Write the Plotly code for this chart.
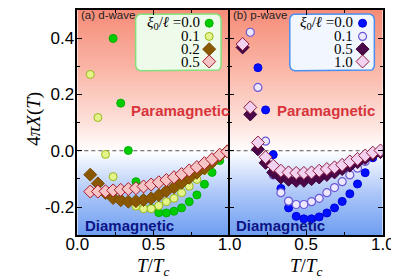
import plotly.graph_objects as go

# ---------------- data ----------------
T = [0.085, 0.135, 0.185, 0.235, 0.285, 0.335, 0.385, 0.435, 0.485, 0.535,
     0.585, 0.635, 0.685, 0.735, 0.785, 0.835, 0.885, 0.935, 0.985]

# (a) d-wave
d_00 = [None, None, None, 0.399, 0.169, 0.001, -0.110, -0.172, -0.205, -0.220,
        -0.221, -0.215, -0.203, -0.181, -0.157, -0.119, -0.077, -0.035, -0.004]
d_01 = [0.271, 0.118, -0.013, -0.092, -0.140, -0.178, -0.197, -0.206, -0.206, -0.195,
        -0.181, -0.169, -0.149, -0.126, -0.102, -0.070, -0.044, -0.022, -0.004]
d_02 = [-0.085, -0.116, -0.150, -0.168, -0.176, -0.181, -0.179, -0.175, -0.169, -0.158,
        -0.143, -0.130, -0.114, -0.096, -0.078, -0.062, -0.041, -0.017, -0.002]
d_05 = [-0.145, -0.145, -0.144, -0.141, -0.139, -0.136, -0.133, -0.127, -0.120, -0.112,
        -0.104, -0.094, -0.083, -0.070, -0.058, -0.044, -0.030, -0.014, -0.003]

# (b) p-wave
p_00 = [None, None, 0.295, 0.145, -0.014, -0.134, -0.203, -0.233, -0.242, -0.242,
        -0.235, -0.221, -0.203, -0.180, -0.153, -0.118, -0.078, -0.025, -0.002]
p_01 = [None, 0.421, 0.225, 0.034, -0.086, -0.149, -0.179, -0.191, -0.191, -0.181,
        -0.169, -0.149, -0.131, -0.110, -0.086, -0.062, -0.038, -0.016, -0.002]
p_05 = [0.367, 0.129, 0.005, -0.043, -0.077, -0.095, -0.103, -0.107, -0.107, -0.101,
        -0.095, -0.086, -0.077, -0.065, -0.053, -0.041, -0.026, -0.014, -0.005]
p_10 = [0.379, 0.154, 0.029, -0.023, -0.053, -0.071, -0.077, -0.079, -0.079, -0.077,
        -0.071, -0.065, -0.059, -0.050, -0.038, -0.029, -0.017, -0.007, 0.001]

legend_vals_a = ["0.0", "0.1", "0.2", "0.5"]
legend_vals_b = ["0.0", "0.1", "0.5", "1.0"]

x_ticks_a = [0, 0.5, 1.0]
x_labels_a = ["0.0", "0.5", "1.0"]
x_ticks_b = [0.5, 1.0]
x_labels_b = ["0.5", "1.0"]
y_ticks = [-0.2, 0.0, 0.2, 0.4]
y_labels = ["-0.2", "0.0", "0.2", "0.4"]

# background gradient stops (y, color)
grad_y = [-0.32, -0.15, 0.0, 0.1, 0.3, 0.52]
grad_c = ["rgb(100,152,240)", "rgb(172,198,248)", "rgb(255,255,255)",
          "rgb(253,226,220)", "rgb(250,180,164)", "rgb(245,136,116)"]

# ---------------- styles ----------------
S_a = [
    dict(symbol="circle", size=8, color="#00cc00", line=dict(color="#00b000", width=1)),
    dict(symbol="circle", size=8, color="#e4f48a", line=dict(color="#98b818", width=1)),
    dict(symbol="diamond", size=10, color="#8a5800", line=dict(color="#7a4c00", width=1)),
    dict(symbol="diamond", size=10, color="#f6c4c4", line=dict(color="#a81828", width=1)),
]
S_b = [
    dict(symbol="circle", size=8, color="#0010ff", line=dict(color="#0000e0", width=1)),
    dict(symbol="circle", size=8, color="#ece8ff", line=dict(color="#6a58d8", width=1.2)),
    dict(symbol="diamond", size=10, color="#4a0848", line=dict(color="#3c003a", width=1)),
    dict(symbol="diamond", size=10, color="#f2d2f0", line=dict(color="#8c1c3c", width=1)),
]

fig = go.Figure()

# gradient background (heatmap, smoothed)
n = len(grad_y)
cs = [[i / (n - 1), c] for i, c in enumerate(grad_c)]
zz = [[i, i] for i in range(n)]
for xa, ya in (("x", "y"), ("x2", "y2")):
    fig.add_trace(go.Heatmap(x=[-0.01, 1.01], y=grad_y, z=zz, colorscale=cs,
                             zsmooth="best", showscale=False, hoverinfo="skip",
                             xaxis=xa, yaxis=ya))

# dashed zero line
for xa, ya in (("x", "y"), ("x2", "y2")):
    fig.add_trace(go.Scatter(x=[0, 1], y=[0, 0], mode="lines",
                             line=dict(color="#555555", width=1, dash="4px,3px"),
                             hoverinfo="skip", showlegend=False, xaxis=xa, yaxis=ya))

# legend boxes (rounded rect as filled path)
def rounded_box(x0, x1, y0, y1, rx, ry, k=6):
    import math
    xs, ys = [], []
    corners = [(x1 - rx, y1 - ry, 0), (x0 + rx, y1 - ry, 90),
               (x0 + rx, y0 + ry, 180), (x1 - rx, y0 + ry, 270)]
    for cx, cy, a0 in corners:
        for j in range(k + 1):
            a = math.radians(a0 + 90 * j / k)
            xs.append(cx + rx * math.cos(a))
            ys.append(cy + ry * math.sin(a))
    xs.append(xs[0]); ys.append(ys[0])
    return xs, ys

bx, by = rounded_box(0.383, 0.944, 0.284, 0.486, 0.035, 0.02)
fig.add_trace(go.Scatter(x=bx, y=by, mode="lines", fill="toself",
                         fillcolor="#effbea", line=dict(color="#84e07c", width=1.5),
                         hoverinfo="skip", showlegend=False, xaxis="x", yaxis="y"))
bx, by = rounded_box(0.393, 0.945, 0.284, 0.486, 0.035, 0.02)
fig.add_trace(go.Scatter(x=bx, y=by, mode="lines", fill="toself",
                         fillcolor="#f2f6ff", line=dict(color="#4a90f0", width=1.5),
                         hoverinfo="skip", showlegend=False, xaxis="x2", yaxis="y2"))

# data
for ys, st in zip([d_00, d_01, d_02, d_05], S_a):
    fig.add_trace(go.Scatter(x=T, y=ys, mode="markers", marker=st,
                             showlegend=False, xaxis="x", yaxis="y"))
for ys, st in zip([p_00, p_01, p_05, p_10], S_b):
    fig.add_trace(go.Scatter(x=T, y=ys, mode="markers", marker=st,
                             showlegend=False, xaxis="x2", yaxis="y2"))

# legend markers & texts
leg_rows = [0.453, 0.406, 0.361, 0.317]
annos = []
serif = "Liberation Serif, DejaVu Serif, serif"
for (vals, styles, xa, ya, mx, tx) in (
        (legend_vals_a, S_a, "x", "y", 0.866, 0.812),
        (legend_vals_b, S_b, "x2", "y2", 0.868, 0.810)):
    for i, (v, st, yy) in enumerate(zip(vals, styles, leg_rows)):
        fig.add_trace(go.Scatter(x=[mx], y=[yy], mode="markers", marker=st,
                                 showlegend=False, hoverinfo="skip", xaxis=xa, yaxis=ya))
        txt = ("<i>ξ</i><sub>0</sub>/<i>ℓ</i> =" + v) if i == 0 else v
        annos.append(dict(x=tx, y=yy, xref=xa, yref=ya, text=txt, showarrow=False,
                          xanchor="right", yanchor="middle", borderpad=0,
                          font=dict(family=serif, size=15, color="black")))

sans = "Liberation Sans, Arial, sans-serif"
for xa, ya, lab in (("x", "y", "(a) d-wave"), ("x2", "y2", "(b) p-wave")):
    annos.append(dict(x=0.012, y=0.482, xref=xa, yref=ya, text=lab, showarrow=False,
                      xanchor="left", yanchor="middle",
                      font=dict(family=sans, size=11.5, color="#222222")))
annos.append(dict(x=0.675, y=0.144, xref="x", yref="y", text="<b>Paramagnetic</b>",
                  showarrow=False, xanchor="center", yanchor="middle",
                  font=dict(family=sans, size=15, color="#d8343c")))
annos.append(dict(x=0.63, y=0.144, xref="x2", yref="y2", text="<b>Paramagnetic</b>",
                  showarrow=False, xanchor="center", yanchor="middle",
                  font=dict(family=sans, size=15, color="#d8343c")))
annos.append(dict(x=0.035, y=-0.266, xref="x", yref="y", text="<b>Diamagnetic</b>",
                  showarrow=False, xanchor="left", yanchor="middle",
                  font=dict(family=sans, size=15, color="#0c1486")))
annos.append(dict(x=0.03, y=-0.266, xref="x2", yref="y2", text="<b>Diamagnetic</b>",
                  showarrow=False, xanchor="left", yanchor="middle",
                  font=dict(family=sans, size=15, color="#0c1486")))

# axis titles
annos.append(dict(x=142 / 399, y=(279 - 259) / 279, xref="paper", yref="paper",
                  text="<i>T</i>/<i>T</i><sub><i>c</i></sub>", showarrow=False,
                  xanchor="center", yanchor="middle",
                  font=dict(family=serif, size=19, color="black")))
annos.append(dict(x=304.5 / 399, y=(279 - 259) / 279, xref="paper", yref="paper",
                  text="<i>T</i>/<i>T</i><sub><i>c</i></sub>", showarrow=False,
                  xanchor="center", yanchor="middle",
                  font=dict(family=serif, size=19, color="black")))
annos.append(dict(x=15 / 399, y=(279 - 110) / 279, xref="paper", yref="paper",
                  text="4<i>πX</i>(<i>T</i>)", showarrow=False, textangle=-90,
                  xanchor="center", yanchor="middle",
                  font=dict(family=serif, size=19, color="black")))

W, H = 399, 279
xd_a = [61 / W, 223 / W]
xd_b = [223 / W, 386 / W]
yd = [(H - 227) / H, (H - 1) / H]

ax_common = dict(showgrid=False, zeroline=False, showline=True, linecolor="black",
                 linewidth=1.5, mirror="ticks", ticks="inside", ticklen=5,
                 tickcolor="black", tickwidth=1.2,
                 tickfont=dict(family=sans, size=17, color="black"))

fig.update_layout(
    width=W, height=H, margin=dict(l=0, r=0, t=0, b=0),
    paper_bgcolor="white", plot_bgcolor="white", showlegend=False,
    annotations=annos,
    xaxis=dict(domain=xd_a, range=[0, 1], tickmode="array", tickvals=x_ticks_a,
               ticktext=x_labels_a, anchor="y", ticklabelstandoff=-7,
               minor=dict(tickmode="array", tickvals=[0.25, 0.75], ticks="inside",
                          ticklen=3, tickcolor="black"), **ax_common),
    xaxis2=dict(domain=xd_b, range=[0, 1], tickmode="array", tickvals=x_ticks_b,
                ticktext=x_labels_b, anchor="y2", ticklabelstandoff=-7,
                minor=dict(tickmode="array", tickvals=[0, 0.25, 0.75], ticks="inside",
                           ticklen=3, tickcolor="black"), **ax_common),
    yaxis=dict(domain=yd, range=[-0.3, 0.5], tickmode="array", tickvals=y_ticks,
               ticktext=y_labels, anchor="x", ticklabelstandoff=-2,
               minor=dict(tickmode="array", tickvals=[-0.1, 0.1, 0.3], ticks="inside",
                          ticklen=3, tickcolor="black"), **ax_common),
    yaxis2=dict(domain=yd, range=[-0.3, 0.5], tickmode="array", tickvals=y_ticks,
                ticktext=y_labels, anchor="x2", showticklabels=False,
                minor=dict(tickmode="array", tickvals=[-0.1, 0.1, 0.3], ticks="inside",
                           ticklen=3, tickcolor="black"), **ax_common),
)

fig.write_html("out.html")
